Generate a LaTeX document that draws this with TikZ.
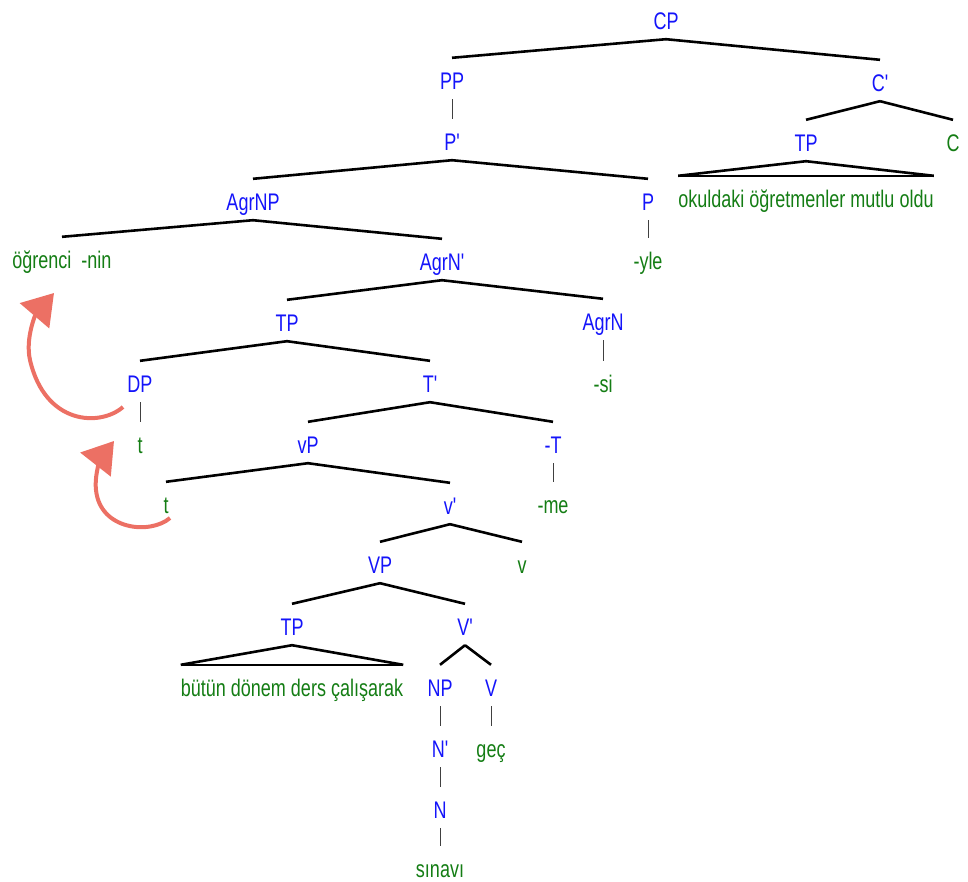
\documentclass[tikz,border=0pt]{standalone}
\usepackage{fontspec}
\newfontfamily\treefont{Liberation Sans}[FakeStretch=0.75]
\usetikzlibrary{arrows.meta}
\definecolor{catblue}{RGB}{20,20,250}
\definecolor{lexgreen}{RGB}{20,125,20}
\definecolor{movered}{RGB}{236,112,100}

\begin{document}
\begin{tikzpicture}[x=1pt, y=-1pt,
    lbl/.style={anchor=base, inner xsep=0pt, inner ysep=5pt,
        text height=26pt, text depth=5pt,
        font=\treefont\fontsize{24}{28}\selectfont},
    cat/.style={lbl, text=catblue},
    lex/.style={lbl, text=lexgreen},
    branch/.style={line width=2.6pt},
    unary/.style={line width=1pt, black!75},
    roof/.style={line width=1.5pt},
    mv/.style={movered, line width=4pt, -{Triangle[length=30pt,width=38pt]}}
]
    \useasboundingbox (0,0) rectangle (968,881);

    % CP and C'
    \node[cat] (CP)    at (666,29)  {CP};
    \node[cat] (PP)    at (452,89)  {PP};
    \node[cat] (Pbar)  at (452,150) {P'};
    \node[cat] (Cbar)  at (880,91)  {C'};
    \node[cat] (TPc)   at (806,151) {TP};
    \node[lex] (C)     at (953,151) {C};
    \node[lex] (okul)  at (806,207) {okuldaki öğretmenler mutlu oldu};
    \node[cat] (P)     at (648,210) {P};
    \node[lex] (yle)   at (648,269) {-yle};

    % AgrNP
    \node[cat] (AgrNP)   at (253,210) {AgrNP};
    \node[lex] (ogr)     at (62,268)  {öğrenci\ \ -nin};
    \node[cat] (AgrNbar) at (442,270) {AgrN'};
    \node[cat] (TPm)     at (287,331) {TP};
    \node[cat] (AgrN)    at (603,330) {AgrN};
    \node[lex] (si)      at (603,392) {-si};

    % TP, vP
    \node[cat] (DP)    at (140,392) {DP};
    \node[cat] (Tbar)  at (430,392) {T'};
    \node[lex] (tDP)   at (140,453) {t};
    \node[cat] (vP)    at (308,453) {vP};
    \node[cat] (T)     at (553,453) {-T};
    \node[lex] (me)    at (553,513) {-me};
    \node[lex] (tv)    at (166,513) {t};
    \node[cat] (vbar)  at (450,514) {v'};
    \node[cat] (VP)    at (380,573) {VP};
    \node[lex] (v)     at (522,573) {v};

    % VP
    \node[cat] (TPl)    at (292,635) {TP};
    \node[cat] (Vbar)   at (465,635) {V'};
    \node[lex] (butun)  at (292,696) {bütün dönem ders çalışarak};
    \node[cat] (NP)     at (440,696) {NP};
    \node[cat] (V)      at (491,696) {V};
    \node[cat] (Nbar)   at (440,757) {N'};
    \node[lex] (gec)    at (491,757) {geç};
    \node[cat] (N)      at (440,818) {N};
    \node[lex] (sinavi) at (440,877) {sınavı};

    % Branches
    \draw[branch] (CP.south) -- (PP.north);
    \draw[branch] (CP.south) -- (Cbar.north);
    \draw[unary]  (PP.south) -- (Pbar.north);
    \draw[branch] (Cbar.south) -- (TPc.north);
    \draw[branch] (Cbar.south) -- (C.north);
    \draw[branch] (TPc.south) -- (okul.north west);
    \draw[branch] (TPc.south) -- (okul.north east);
    \draw[roof]   (okul.north west) -- (okul.north east);
    \draw[branch] (Pbar.south) -- (AgrNP.north);
    \draw[branch] (Pbar.south) -- (P.north);
    \draw[unary]  (P.south) -- (yle.north);
    \draw[branch] (AgrNP.south) -- (ogr.north);
    \draw[branch] (AgrNP.south) -- (AgrNbar.north);
    \draw[branch] (AgrNbar.south) -- (TPm.north);
    \draw[branch] (AgrNbar.south) -- (AgrN.north);
    \draw[unary]  (AgrN.south) -- (si.north);
    \draw[branch] (TPm.south) -- (DP.north);
    \draw[branch] (TPm.south) -- (Tbar.north);
    \draw[unary]  (DP.south) -- (tDP.north);
    \draw[branch] (Tbar.south) -- (vP.north);
    \draw[branch] (Tbar.south) -- (T.north);
    \draw[unary]  (T.south) -- (me.north);
    \draw[branch] (vP.south) -- (tv.north);
    \draw[branch] (vP.south) -- (vbar.north);
    \draw[branch] (vbar.south) -- (VP.north);
    \draw[branch] (vbar.south) -- (v.north);
    \draw[branch] (VP.south) -- (TPl.north);
    \draw[branch] (VP.south) -- (Vbar.north);
    \draw[branch] (TPl.south) -- (butun.north west);
    \draw[branch] (TPl.south) -- (butun.north east);
    \draw[roof]   (butun.north west) -- (butun.north east);
    \draw[branch] (Vbar.south) -- (NP.north);
    \draw[branch] (Vbar.south) -- (V.north);
    \draw[unary]  (NP.south) -- (Nbar.north);
    \draw[unary]  (Nbar.south) -- (N.north);
    \draw[unary]  (N.south) -- (sinavi.north);
    \draw[unary]  (V.south) -- (gec.north);

    % Movement arrows
    \coordinate (mv1a) at (123,407);
    \coordinate (mv1b) at (54,293);
    \coordinate (mv2a) at (170,518);
    \coordinate (mv2b) at (114,441);
    \draw[mv] (mv1a) .. controls (100,427) and (45,425) .. (30,360)
        .. controls (25,338) and (36,314) .. (mv1b);
    \draw[mv] (mv2a) .. controls (150,535) and (100,530) .. (96,490)
        .. controls (94,472) and (103,455) .. (mv2b);
\end{tikzpicture}
\end{document}
